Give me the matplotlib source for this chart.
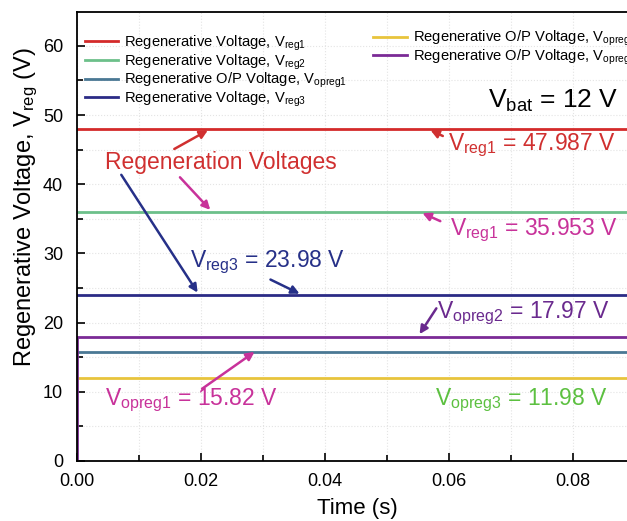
import matplotlib
matplotlib.use("Agg")
import matplotlib.pyplot as plt
from matplotlib.ticker import MultipleLocator

plt.rcParams['font.family'] = ['Liberation Sans', 'DejaVu Sans']
plt.rcParams['mathtext.fontset'] = 'custom'
plt.rcParams['mathtext.rm'] = 'Liberation Sans'
plt.rcParams['mathtext.it'] = 'Liberation Sans'

# data
t_end = 0.0887
time = [0.0, t_end]
v_reg1 = [47.987, 47.987]
v_reg2 = [35.953, 35.953]
v_opreg1 = [15.82, 15.82]
v_reg3 = [23.98, 23.98]
v_opreg3 = [11.98, 11.98]
time_opreg2 = [0.0, 0.0, t_end]
v_opreg2 = [0.0, 17.97, 17.97]

fig = plt.figure(figsize=(6.27, 5.21), dpi=100)
ax = fig.add_axes([0.1228, 0.1152, 0.8772, 0.8618])

l1, = ax.plot(time, v_reg1, color='#d42a2a', lw=2, label='Regenerative Voltage, V$_{reg1}$')
l2, = ax.plot(time, v_reg2, color='#6cc08a', lw=2, label='Regenerative Voltage, V$_{reg2}$')
l3, = ax.plot(time, v_opreg1, color='#4a7894', lw=2, label='Regenerative O/P Voltage, V$_{opreg1}$')
l4, = ax.plot(time, v_reg3, color='#2b2b86', lw=2, label='Regenerative Voltage, V$_{reg3}$')
l5, = ax.plot(time, v_opreg3, color='#e8c43c', lw=2, label='Regenerative O/P Voltage, V$_{opreg3}$')
l6, = ax.plot(time_opreg2, v_opreg2, color='#7b2a96', lw=2, label='Regenerative O/P Voltage, V$_{opreg2}$')

ax.set_xlim(0, t_end)
ax.set_ylim(0, 64.9)
ax.xaxis.set_major_locator(MultipleLocator(0.02))
ax.xaxis.set_minor_locator(MultipleLocator(0.01))
ax.yaxis.set_major_locator(MultipleLocator(10))
ax.yaxis.set_minor_locator(MultipleLocator(5))
ax.xaxis.set_major_formatter(matplotlib.ticker.FormatStrFormatter('%.2f'))
ax.tick_params(which='both', direction='in', labelsize=13)
ax.tick_params(which='major', length=6, width=1.2)
ax.tick_params(which='minor', length=4, width=1.2)
ax.tick_params(axis='x', pad=9)
ax.tick_params(axis='y', pad=10)
ax.spines['right'].set_visible(False)
for s in ['left', 'bottom', 'top']:
    ax.spines[s].set_linewidth(1.3)
ax.grid(True, which='both', ls=':', color='#e4e4e4', lw=0.8)

ax.set_xlabel('Time (s)', fontsize=16)
ax.set_ylabel('Regenerative Voltage, V$_{reg}$ (V)', fontsize=17)
ax.xaxis.set_label_coords(0.51, -0.082)
ax.yaxis.set_label_coords(-0.068, 0.565)

leg1 = ax.legend(handles=[l1, l2, l3, l4], loc='upper left', bbox_to_anchor=(-0.005, 0.975),
                 frameon=False, fontsize=10.6, handlelength=2.3, handletextpad=0.4,
                 labelspacing=-0.04, borderaxespad=0.3)
ax.add_artist(leg1)
ax.legend(handles=[l5, l6], loc='upper left', bbox_to_anchor=(0.52, 0.985),
          frameon=False, fontsize=10.6, handlelength=2.3, handletextpad=0.4,
          labelspacing=-0.05, borderaxespad=0.3)

red = '#d03030'
mag = '#c8329a'
navy = '#263088'
purp = '#6a2a8e'
green = '#5cc040'

ax.text(0.0045, 43.1, 'Regeneration Voltages', color=red, fontsize=16.5, va='center')
ax.text(0.0663, 52.1, 'V$_{bat}$ = 12 V', color='black', fontsize=19, va='center')
ax.text(0.0598, 45.6, 'V$_{reg1}$ = 47.987 V', color=red, fontsize=16.5, va='center')
ax.text(0.0602, 33.3, 'V$_{reg1}$ = 35.953 V', color=mag, fontsize=16.5, va='center')
ax.text(0.0182, 28.7, 'V$_{reg3}$ = 23.98 V', color=navy, fontsize=16.5, va='center')
ax.text(0.0580, 21.4, 'V$_{opreg2}$ = 17.97 V', color=purp, fontsize=16.5, va='center')
ax.text(0.0045, 8.8, 'V$_{opreg1}$ = 15.82 V', color=mag, fontsize=16.5, va='center')
ax.text(0.0577, 8.8, 'V$_{opreg3}$ = 11.98 V', color=green, fontsize=16.5, va='center')

def arrow(tail, head, color):
    ax.annotate('', xy=head, xytext=tail,
                arrowprops=dict(arrowstyle='-|>', color=color, lw=1.8, mutation_scale=12))

arrow((0.0153, 44.9), (0.0215, 48.0), red)
arrow((0.0163, 41.3), (0.0218, 36.0), mag)
arrow((0.0069, 41.7), (0.0197, 24.0), navy)
arrow((0.0594, 46.8), (0.0566, 48.0), red)
arrow((0.0590, 34.5), (0.0553, 36.0), mag)
arrow((0.0308, 26.4), (0.0363, 24.0), navy)
arrow((0.0582, 22.4), (0.0550, 18.0), purp)
arrow((0.0198, 10.2), (0.0290, 16.0), mag)

fig.savefig('out.png', dpi=100)
